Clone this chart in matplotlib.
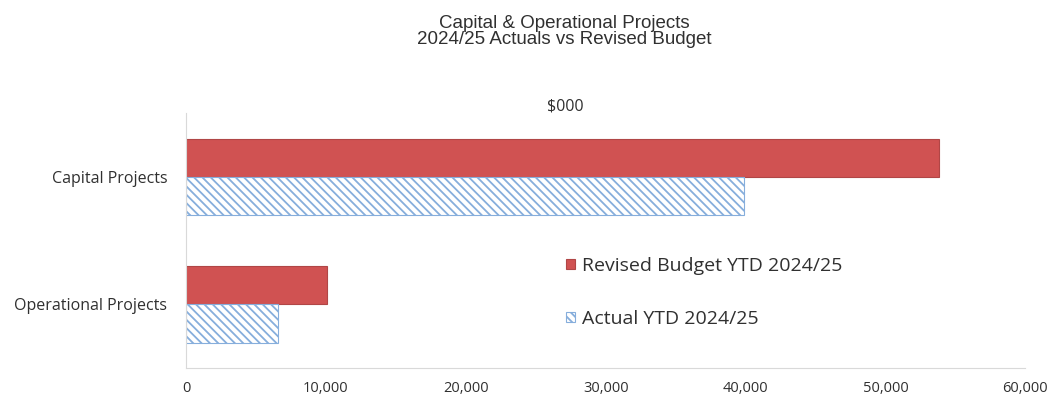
import matplotlib
matplotlib.use("Agg")
import matplotlib.pyplot as plt
import numpy as np

categories = ["Capital Projects", "Operational Projects"]
budget = [53800, 10100]
actual = [39900, 6600]
xticks = [0, 10000, 20000, 30000, 40000, 50000, 60000]

plt.rcParams['font.family'] = ['Open Sans', 'DejaVu Sans']
plt.rcParams['hatch.linewidth'] = 1.3

fig = plt.figure(figsize=(10.57, 4.0), dpi=100)
ax = fig.add_axes([0.176, 0.08, 0.794, 0.6375])

y = np.arange(len(categories))
h = 0.3
ax.barh(y - h / 2, budget, height=h, color="#d05252", edgecolor="#b04646",
        linewidth=0.8, label="Revised Budget YTD 2024/25")
ax.barh(y + h / 2, actual, height=h, color="white", edgecolor="#86aedc",
        hatch="\\\\\\\\", linewidth=0.8, label="Actual YTD 2024/25")

ax.set_ylim(1.5, -0.5)
ax.set_xlim(0, 60000)
ax.set_yticks(y)
ax.set_yticklabels(categories, fontsize=11.5, color="#303030")
ax.set_xticks(xticks)
ax.set_xticklabels([f"{v:,}" for v in xticks], fontsize=10.5, color="#303030")
ax.tick_params(axis="x", length=0, pad=9)
ax.tick_params(axis="y", length=0, pad=13.5)
for s in ["top", "right"]:
    ax.spines[s].set_visible(False)
ax.spines["left"].set_color("#d9d9d9")
ax.spines["bottom"].set_color("#d9d9d9")

fig.text(0.534, 1 - 23 / 400, "Capital & Operational Projects", ha="center", va="center",
         fontsize=13.5, family=["Liberation Sans"], color="#303030")
fig.text(0.534, 1 - 40 / 400, "2024/25 Actuals vs Revised Budget", ha="center", va="center",
         fontsize=13.5, family=["Liberation Sans"], color="#303030")
fig.text(0.535, 1 - 106 / 400, "$000", ha="center", va="center", fontsize=11.5, color="#303030")

leg = ax.legend(loc="center left", bbox_to_anchor=(0.444, 0.296), frameon=False, fontsize=14,
                handlelength=0.42, handleheight=0.42, handletextpad=0.4, labelspacing=1.83,
                borderaxespad=0)
for t in leg.get_texts():
    t.set_color("#303030")

fig.savefig("out.png", dpi=100)
